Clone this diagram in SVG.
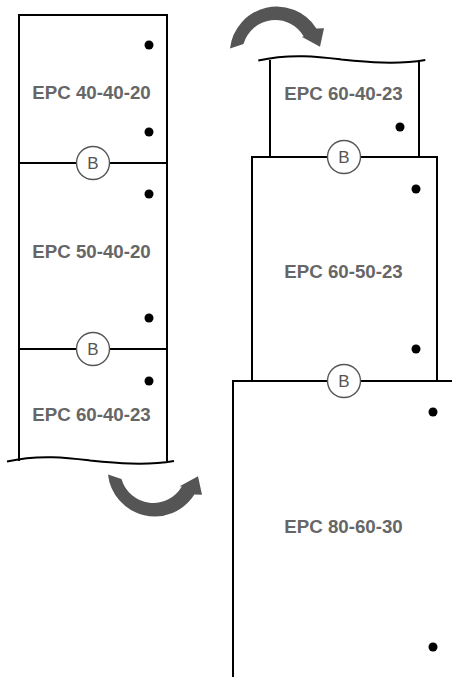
<svg xmlns="http://www.w3.org/2000/svg" xmlns:xlink="http://www.w3.org/1999/xlink" width="452" height="677" viewBox="0 0 452 677">
<style>
.ln{fill:none;stroke:#000;stroke-width:2}
.dot{fill:#000}
.lbl{font-family:"Liberation Sans",Arial,sans-serif;font-weight:bold;font-size:18.7px;fill:#666;text-anchor:middle}
.bc{fill:#fff;stroke:#555;stroke-width:1.4}
.bt{font-family:"Liberation Sans",Arial,sans-serif;font-size:17px;fill:#555;text-anchor:middle}
.arr{fill:#555}
</style>
<defs>
<path id="wave" d="M7,461.5 C40,454 70,458 90,460.5 C115,463 145,466 174,461" class="ln"/>
<path id="arrow" class="arr" d="M230,48.5 A47,47 0 0 1 316.4,28.4 L324,28.3 L320,46.7 L301.7,36.7 L303.8,36.6 A33,33 0 0 0 243.5,44 Z"/>
</defs>
<rect width="452" height="677" fill="#fff"/>
<g id="connectors">
<use xlink:href="#arrow" href="#arrow"/>
<use xlink:href="#arrow" href="#arrow" transform="translate(-122,523) scale(1,-1)"/>
</g>
<g id="left-stack">
<path class="ln" d="M19,461 V15 H167 V461"/>
<use xlink:href="#wave" href="#wave"/>
</g>
<g id="epc-40-40-20">
<line class="ln" x1="19" y1="163" x2="167" y2="163"/>
<circle class="dot" cx="149" cy="45" r="4.5"/>
<circle class="dot" cx="149" cy="132" r="4.5"/>
<text class="lbl" x="91.5" y="99">EPC 40-40-20</text>
<circle class="bc" cx="93" cy="163" r="16.5"/>
<text class="bt" x="93" y="169">B</text>
</g>
<g id="epc-50-40-20">
<line class="ln" x1="19" y1="349" x2="167" y2="349"/>
<circle class="dot" cx="149" cy="194" r="4.5"/>
<circle class="dot" cx="149" cy="318" r="4.5"/>
<text class="lbl" x="91.5" y="258">EPC 50-40-20</text>
<circle class="bc" cx="93" cy="349" r="16.5"/>
<text class="bt" x="93" y="355">B</text>
</g>
<g id="epc-60-40-23-left">
<circle class="dot" cx="149" cy="381" r="4.5"/>
<text class="lbl" x="91.5" y="421">EPC 60-40-23</text>
</g>
<g id="epc-60-40-23-right">
<path class="ln" d="M270,60 V157 M419,60 V157"/>
<use xlink:href="#wave" href="#wave" transform="translate(251.3,-401)"/>
<circle class="dot" cx="400" cy="127" r="4.5"/>
<text class="lbl" x="343.5" y="100">EPC 60-40-23</text>
</g>
<g id="epc-60-50-23">
<path class="ln" d="M252,381 V157 H437 V381"/>
<circle class="dot" cx="416" cy="189" r="4.5"/>
<circle class="dot" cx="416" cy="349" r="4.5"/>
<text class="lbl" x="343.5" y="278.3">EPC 60-50-23</text>
<circle class="bc" cx="344" cy="157" r="16.5"/>
<text class="bt" x="344" y="163">B</text>
</g>
<g id="epc-80-60-30">
<path class="ln" d="M233,677 V381 H452"/>
<circle class="dot" cx="433" cy="412" r="4.5"/>
<circle class="dot" cx="433" cy="647" r="4.5"/>
<text class="lbl" x="343.5" y="533.3">EPC 80-60-30</text>
<circle class="bc" cx="344" cy="381" r="16.5"/>
<text class="bt" x="344" y="387">B</text>
</g>
</svg>
